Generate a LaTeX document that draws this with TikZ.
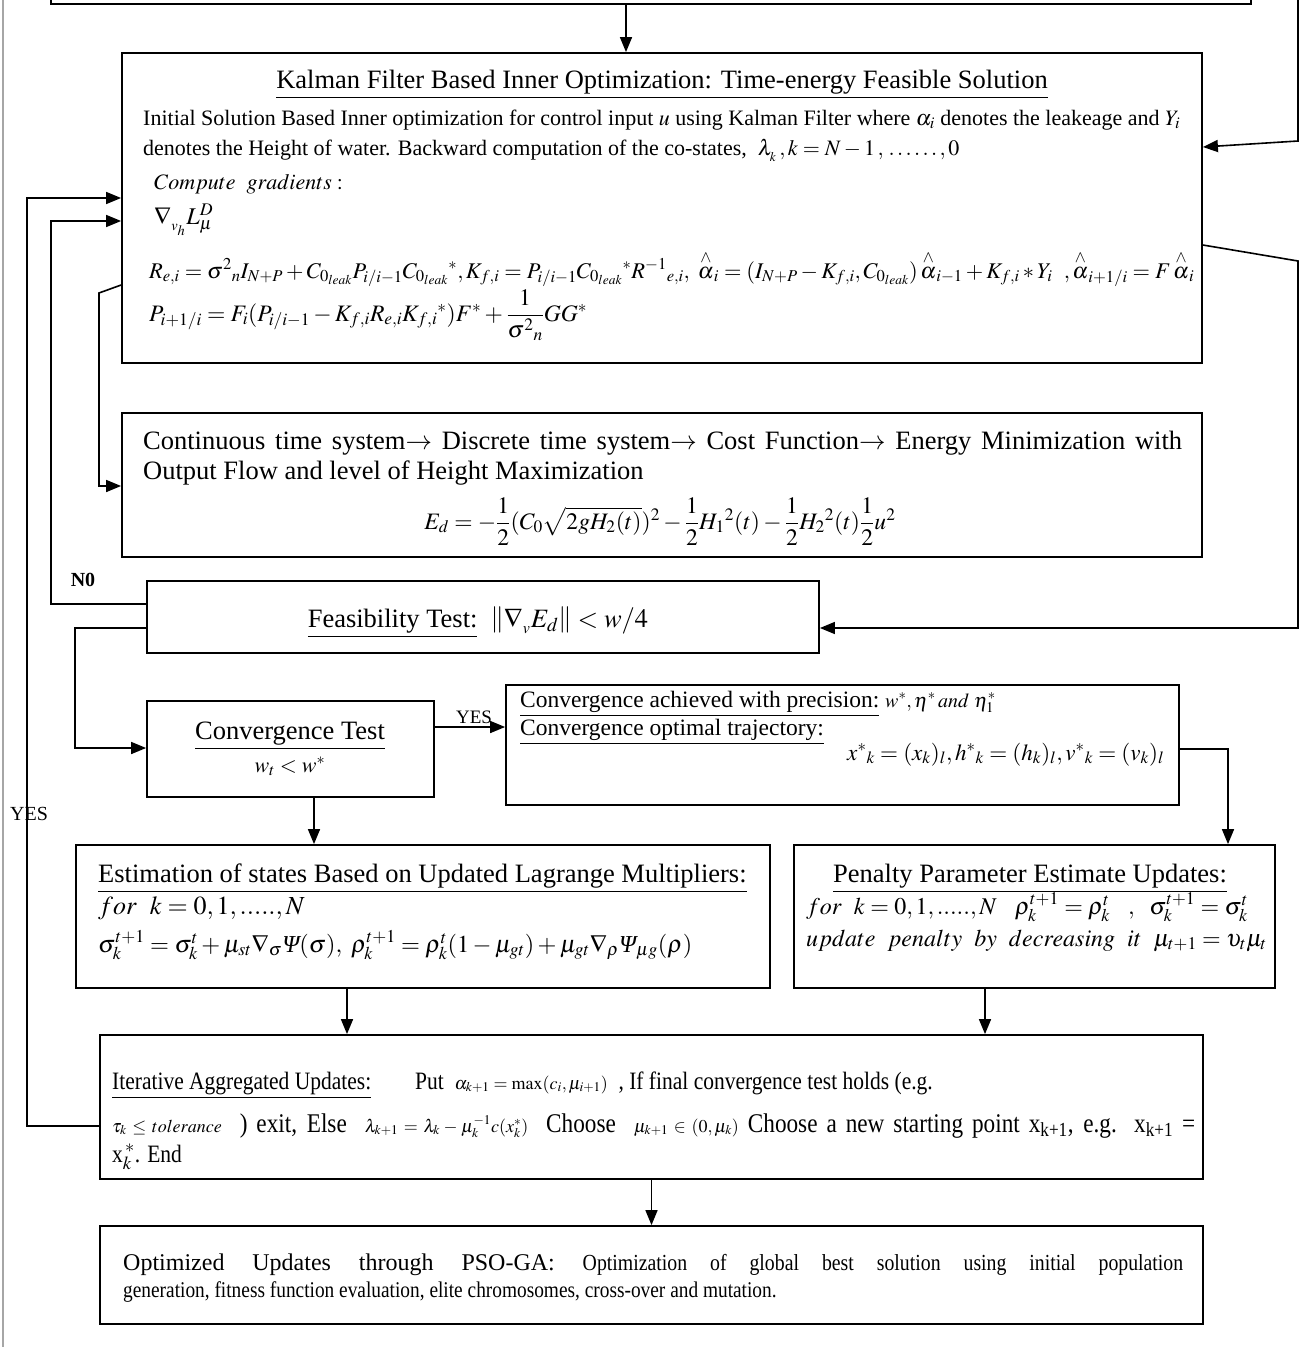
\documentclass[tikz,border=0pt]{standalone}
\usepackage{amsmath}
\usepackage{mathptmx}
\usepackage{fontspec}
\setmainfont{Liberation Serif}
\newfontfamily\cond{Liberation Serif}[FakeStretch=0.86]
\usetikzlibrary{arrows.meta}
\newcommand{\fs}[1]{\fontsize{#1}{#1}\selectfont}
\newcommand{\hatt}[1]{\overset{\wedge}{#1}}
\newcommand{\iPsi}{\text{\itshape Ψ}}
\begin{document}
\begin{tikzpicture}[x=1pt,y=-1pt,
  box/.style={draw,line width=1.8pt,inner sep=0pt},
  conn/.style={line width=1.6pt},
  arr/.style={conn,-{Triangle[length=15pt,width=12pt]}},
  lt/.style={inner sep=0pt,anchor=base west},
  ct/.style={inner sep=0pt,anchor=base}]
\useasboundingbox (0,0) rectangle (1301,1347);
\clip (0,0) rectangle (1301,1347);
\fill[white] (0,0) rectangle (1301,1347);
\draw[gray!70,line width=1.5pt] (3,0) -- (3,1347);

% boxes
\node[box,minimum width=1200pt,minimum height=40pt] (top) at (651,-16) {};
\node[box,minimum width=1080pt,minimum height=310pt] (kal) at (662,208) {};
\node[box,minimum width=1080pt,minimum height=144pt] (cont) at (662,485) {};
\node[box,minimum width=672pt,minimum height=72pt] (feas) at (483,617) {};
\node[box,minimum width=287pt,minimum height=96pt] (ctest) at (290.5,749) {};
\node[box,minimum width=673pt,minimum height=120pt] (cach) at (842.5,745) {};
\node[box,minimum width=694pt,minimum height=143pt] (est) at (423,916.5) {};
\node[box,minimum width=481pt,minimum height=143pt] (pen) at (1034.5,916.5) {};
\node[box,minimum width=1103pt,minimum height=144pt] (iter) at (651.5,1107) {};
\node[box,minimum width=1103pt,minimum height=98pt] (pso) at (651.5,1275) {};

% connectors
\coordinate (rin) at (1298,-10);
\draw[arr] (top.south -| 626,0) -- (kal.north -| 626,0);
\draw[arr] (rin) -- (1298,141) -- (kal.east |- 0,147);
\draw[arr] (kal.east |- 0,245) -- (1298,261) -- (1298,628) -- (feas.east |- 0,628);
\draw[arr] (feas.west |- 0,604) -- (51,604) -- (51,221) -- (kal.west |- 0,221);
\draw[arr] (kal.west |- 0,285) -- (99,293) -- (99,486) -- (cont.west |- 0,486);
\draw[arr] (feas.west |- 0,628) -- (75,628) -- (75,748) -- (ctest.west |- 0,748);
\draw[arr] (iter.west |- 0,1126) -- (27,1126) -- (27,198) -- (kal.west |- 0,198);
\draw[arr] (ctest.east |- 0,727) -- (cach.west |- 0,727);
\draw[arr] (ctest.south -| 314,0) -- (est.north -| 314,0);
\draw[arr] (cach.east |- 0,749) -- (1228,749) -- (pen.north -| 1228,0);
\draw[arr] (est.south -| 347,0) -- (iter.north -| 347,0);
\draw[arr] (pen.south -| 985,0) -- (iter.north -| 985,0);
\draw[arr] (iter.south) -- (pso.north);

% Kalman box
\node[ct] (kt) at (662,88) {\fs{26.5}\underline{Kalman Filter Based Inner Optimization: Time-energy Feasible Solution}};
\node[lt] (k1) at (143,125) {\fs{22}\makebox[1037pt][s]{Initial Solution Based Inner optimization for control input $u$ using Kalman Filter where $\alpha_i$ denotes the leakeage and $Y_i$}};
\node[lt] (k2) at (143,155) {\fs{22}denotes the Height of water. Backward computation of the co-states, \ $\lambda_{_k}\,, k = N - 1\,,\,.\,.\,.\,.\,.\,.\,,0$};
\node[lt] (k3) at (154,189) {\fs{22}$Compute\ \ gradients:$};
\node[lt] (k4) at (154,224) {\fs{24}$\nabla_{_{v_h}} L_\mu^D$};
\node[lt] (k5) at (149,278) {\resizebox{1045pt}{!}{\fs{24}$R_{e,i} = \sigma^{2}{}_{n} I_{N+P} + C_{0_{leak}} P_{i/i-1} C_{0_{leak}}{}^{*} , K_{f,i} = P_{i/i-1} C_{0_{leak}}{}^{*} R^{-1}{}_{e,i} ,\ \hatt{\alpha}_i = (I_{N+P} - K_{f,i} , C_{0_{leak}})\, \hatt{\alpha}_{i-1} + K_{f,i} * Y_i\ \ , \hatt{\alpha}_{i+1/i} = F\, \hatt{\alpha}_i$}};
\node[lt] (k6) at (149,321) {\resizebox{438pt}{!}{\fs{24}$P_{i+1/i} = F_i(P_{i/i-1} - K_{f,i}R_{e,i}K_{f,i}{}^{*})F^{*} + \dfrac{1}{\sigma^{2}{}_{n}} GG^{*}$}};

% Continuous box
\node[lt] (c1) at (143,449) {\fs{26.5}\makebox[1039pt][s]{Continuous time system$\rightarrow$ Discrete time system$\rightarrow$ Cost Function$\rightarrow$ Energy Minimization with}};
\node[lt] (c2) at (143,479) {\fs{26.5}Output Flow and level of Height Maximization};
\node[ct] (c3) at (660,529) {\resizebox{471pt}{!}{\fs{22}$E_d = -\dfrac{1}{2}(C_0\sqrt{2gH_2(t)})^2 - \dfrac{1}{2}H_1{}^2(t) - \dfrac{1}{2}H_2{}^2(t)\dfrac{1}{2}u^2$}};

% Feasibility
\node[ct] (ft) at (478,627) {\fs{26.5}\underline{Feasibility Test:}\ \ $\left\|\nabla_{_v} E_d\right\| < w/4$};

% Convergence test
\node[ct] (ct1) at (290,739) {\fs{26.5}\underline{Convergence Test}};
\node[ct] (ct2) at (290,772) {\fs{22}$w_t < w^{*}$};
\node[ct] (yes1) at (474,723) {\fs{19}YES};

% Convergence achieved
\node[lt] (ca1) at (520,707) {\fs{23.5}\underline{Convergence achieved with precision:}\ {\fs{20}$w^{*},\eta^{*}\,and\ \eta_1^{*}$}};
\node[lt] (ca2) at (520,735) {\fs{23.5}\underline{Convergence optimal trajectory:}};
\node[lt] (ca3) at (847,760) {\resizebox{317pt}{!}{\fs{20}$x^{*}{}_{k} = (x_k)_l , h^{*}{}_{k} = (h_k)_l , v^{*}{}_{k} = (v_k)_l$}};

% Estimation
\node[lt] (e1) at (98,882) {\fs{26.5}\underline{Estimation of states Based on Updated Lagrange Multipliers:}};
\node[lt] (e2) at (98,914) {\fs{26}$for\ \ k = 0,1,.....,N$};
\node[lt] (e3) at (98,952) {\resizebox{594pt}{!}{\fs{26}$\sigma_k^{t+1} = \sigma_k^{t} + \mu_{st}\nabla_{\sigma}\iPsi(\sigma),\ \rho_k^{t+1} = \rho_k^{t}(1-\mu_{gt}) + \mu_{gt}\nabla_{\rho}\iPsi_{\mu g}(\rho)$}};

% Penalty
\node[ct] (p1) at (1030,882) {\fs{26.5}\underline{Penalty Parameter Estimate Updates:}};
\node[lt] (p2) at (806,914) {\fs{24}$for\ \ k = 0,1,.....,N\ \ \ \rho_k^{t+1} = \rho_k^{t}\ \ \ ,\ \ \sigma_k^{t+1} = \sigma_k^{t}$};
\node[lt] (p3) at (806,946) {\fs{24}$update\ \ penalty\ \ by\ \ decreasing\ \ it\ \ \mu_{t+1} = \upsilon_t\mu_t$};

% Iterative
\node[lt] (i1) at (112,1089) {\cond\fs{25}\underline{Iterative Aggregated Updates:}};
\node[lt] (i2) at (415,1089) {\cond\fs{25}Put\ \ {\fs{18}$\alpha_{k+1} = \max(c_i,\mu_{i+1})$}\ \ , If final convergence test holds (e.g.};
\node[lt] (i3) at (112,1132) {\makebox[1083pt][s]{\cond\fs{27}{\fs{18}$\tau_k \le tolerance$}\ \ ) exit, Else\ \ {\fs{18}$\lambda_{k+1} = \lambda_k - \mu_k^{-1}c(x_k^{*})$}\ \ Choose\ \ {\fs{18}$\mu_{k+1}\in(0,\mu_k)$} Choose a new starting point x\textsubscript{k+1}, e.g. x\textsubscript{k+1} =}};
\node[lt] (i4) at (112,1162) {\cond\fs{25}x$_{k}^{\,*}$. End};

% PSO
\node[lt] (s1) at (123,1270) {\makebox[1060pt][s]{\fs{24}Optimized Updates through PSO-GA: \cond\fs{23}Optimization of global best solution using initial population}};
\node[lt] (s2) at (123,1297) {\cond\fs{22.5}generation, fitness function evaluation, elite chromosomes, cross-over and mutation.};

% labels
\node[ct] (no) at (83,586) {\fs{20}\bfseries N0};
\node[ct] (yes2) at (29,820) {\fs{20}YES};
\end{tikzpicture}
\end{document}
